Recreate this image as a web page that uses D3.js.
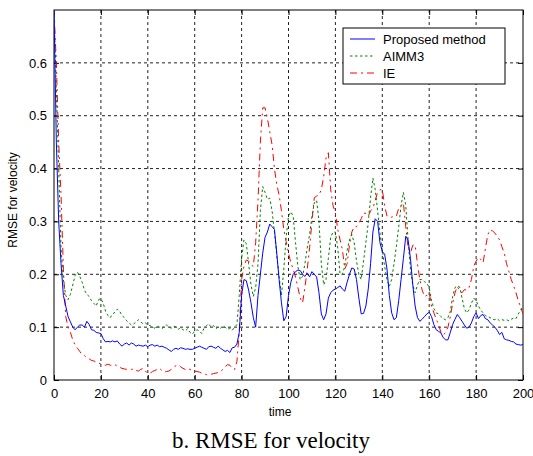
<!DOCTYPE html>
<html>
<head>
<meta charset="utf-8">
<script src="https://cdn.jsdelivr.net/npm/d3@7"></script>
<style>
  body { margin: 0; background: #fff; }
  svg { display: block; }
  .tick text { font-family: Arial, "Liberation Sans", sans-serif; font-size: 13px; fill: #000; }
</style>
</head>
<body>
<div id="chart"></div>
<script>
// Data (one value per time step 0..200)
var proposed = [
  0.70, 0.45, 0.30, 0.22, 0.16, 0.14, 0.12, 0.11, 0.10, 0.095,
  0.100, 0.104, 0.104, 0.100, 0.111, 0.105, 0.095, 0.094, 0.090, 0.089,
  0.088, 0.078, 0.072, 0.073, 0.072, 0.074, 0.072, 0.074, 0.068, 0.064,
  0.068, 0.070, 0.066, 0.070, 0.068, 0.064, 0.066, 0.065, 0.064, 0.066,
  0.063, 0.066, 0.067, 0.064, 0.066, 0.063, 0.064, 0.062, 0.060, 0.057,
  0.054, 0.058, 0.060, 0.058, 0.061, 0.060, 0.058, 0.059, 0.058, 0.058,
  0.060, 0.062, 0.064, 0.062, 0.060, 0.058, 0.063, 0.064, 0.062, 0.060,
  0.064, 0.060, 0.057, 0.054, 0.056, 0.052, 0.061, 0.062, 0.068, 0.090,
  0.160, 0.190, 0.188, 0.170, 0.146, 0.118, 0.100, 0.160, 0.200, 0.240,
  0.270, 0.280, 0.295, 0.290, 0.285, 0.240, 0.190, 0.146, 0.112, 0.120,
  0.160, 0.185, 0.200, 0.205, 0.208, 0.207, 0.200, 0.196, 0.202, 0.195,
  0.205, 0.200, 0.195, 0.165, 0.125, 0.114, 0.125, 0.155, 0.165, 0.170,
  0.172, 0.175, 0.178, 0.172, 0.168, 0.185, 0.200, 0.212, 0.210, 0.190,
  0.155, 0.125, 0.126, 0.140, 0.172, 0.220, 0.280, 0.305, 0.300, 0.260,
  0.243, 0.238, 0.210, 0.160, 0.127, 0.114, 0.118, 0.150, 0.190, 0.230,
  0.272, 0.265, 0.230, 0.180, 0.140, 0.118, 0.111, 0.115, 0.120, 0.125,
  0.128, 0.120, 0.105, 0.095, 0.092, 0.089, 0.080, 0.076, 0.076, 0.090,
  0.105, 0.115, 0.124, 0.118, 0.111, 0.104, 0.098, 0.100, 0.108, 0.120,
  0.127, 0.116, 0.122, 0.124, 0.116, 0.114, 0.108, 0.104, 0.100, 0.094,
  0.086, 0.090, 0.078, 0.076, 0.075, 0.073, 0.072, 0.068, 0.067, 0.066,
  0.067
];

var aimm3 = [
  0.70, 0.55, 0.40, 0.25, 0.19, 0.16, 0.152, 0.162, 0.180, 0.198,
  0.204, 0.196, 0.185, 0.170, 0.162, 0.158, 0.150, 0.145, 0.140, 0.152,
  0.154, 0.145, 0.130, 0.122, 0.118, 0.125, 0.128, 0.134, 0.130, 0.122,
  0.118, 0.112, 0.108, 0.104, 0.106, 0.110, 0.114, 0.110, 0.106, 0.108,
  0.104, 0.103, 0.100, 0.098, 0.102, 0.100, 0.097, 0.101, 0.104, 0.100,
  0.098, 0.102, 0.100, 0.096, 0.099, 0.095, 0.093, 0.097, 0.090, 0.087,
  0.092, 0.095, 0.093, 0.088, 0.098, 0.103, 0.106, 0.100, 0.103, 0.097,
  0.100, 0.098, 0.102, 0.100, 0.096, 0.098, 0.094, 0.100, 0.105, 0.160,
  0.230, 0.265, 0.258, 0.220, 0.180, 0.158, 0.175, 0.220, 0.320, 0.366,
  0.355, 0.342, 0.344, 0.320, 0.280, 0.235, 0.195, 0.160, 0.210, 0.270,
  0.310, 0.318, 0.310, 0.260, 0.215, 0.190, 0.196, 0.220, 0.250, 0.275,
  0.310, 0.335, 0.340, 0.300, 0.220, 0.180, 0.190, 0.230, 0.270, 0.280,
  0.280, 0.250, 0.200, 0.200, 0.215, 0.245, 0.265, 0.275, 0.260, 0.225,
  0.200, 0.190, 0.225, 0.260, 0.297, 0.345, 0.382, 0.360, 0.320, 0.278,
  0.245, 0.215, 0.190, 0.177, 0.190, 0.220, 0.253, 0.290, 0.330, 0.355,
  0.330, 0.265, 0.210, 0.180, 0.165, 0.180, 0.190, 0.190, 0.186, 0.183,
  0.175, 0.150, 0.135, 0.127, 0.125, 0.120, 0.116, 0.114, 0.118, 0.130,
  0.158, 0.175, 0.178, 0.176, 0.155, 0.135, 0.127, 0.133, 0.145, 0.155,
  0.150, 0.140, 0.132, 0.127, 0.122, 0.120, 0.118, 0.115, 0.114, 0.116,
  0.112, 0.114, 0.113, 0.114, 0.112, 0.115, 0.117, 0.116, 0.125, 0.132,
  0.140
];

var ie = [
  0.70, 0.60, 0.45, 0.35, 0.21, 0.12, 0.100, 0.090, 0.076, 0.066,
  0.060, 0.054, 0.048, 0.046, 0.042, 0.040, 0.037, 0.036, 0.034, 0.032,
  0.030, 0.029, 0.028, 0.030, 0.028, 0.027, 0.029, 0.026, 0.024, 0.022,
  0.021, 0.020, 0.019, 0.020, 0.021, 0.018, 0.017, 0.020, 0.022, 0.016,
  0.014, 0.013, 0.016, 0.018, 0.020, 0.022, 0.018, 0.015, 0.016, 0.017,
  0.020, 0.024, 0.027, 0.029, 0.025, 0.022, 0.020, 0.022, 0.020, 0.018,
  0.017, 0.016, 0.015, 0.013, 0.012, 0.010, 0.010, 0.011, 0.012, 0.013,
  0.014, 0.016, 0.020, 0.025, 0.029, 0.028, 0.022, 0.020, 0.035, 0.090,
  0.190, 0.215, 0.227, 0.225, 0.218, 0.215, 0.260, 0.340, 0.450, 0.515,
  0.515, 0.495, 0.470, 0.445, 0.400, 0.370, 0.350, 0.320, 0.285, 0.262,
  0.240, 0.222, 0.210, 0.195, 0.175, 0.155, 0.146, 0.175, 0.210, 0.250,
  0.300, 0.345, 0.348, 0.350, 0.360, 0.385, 0.420, 0.430, 0.360, 0.330,
  0.316, 0.285, 0.265, 0.246, 0.210, 0.220, 0.255, 0.280, 0.290, 0.290,
  0.297, 0.305, 0.316, 0.315, 0.310, 0.320, 0.325, 0.340, 0.355, 0.360,
  0.360, 0.330, 0.310, 0.310, 0.308, 0.310, 0.310, 0.325, 0.330, 0.335,
  0.290, 0.250, 0.240, 0.255, 0.255, 0.220, 0.190, 0.170, 0.158, 0.160,
  0.165, 0.140, 0.127, 0.115, 0.105, 0.090, 0.085, 0.090, 0.100, 0.120,
  0.145, 0.165, 0.177, 0.168, 0.165, 0.171, 0.170, 0.175, 0.190, 0.215,
  0.225, 0.232, 0.228, 0.222, 0.250, 0.275, 0.284, 0.282, 0.278, 0.272,
  0.265, 0.252, 0.240, 0.220, 0.205, 0.190, 0.178, 0.165, 0.150, 0.138,
  0.125
];

var xTicks = [0, 20, 40, 60, 80, 100, 120, 140, 160, 180, 200];
var yTicks = [0, 0.1, 0.2, 0.3, 0.4, 0.5, 0.6];
var seriesNames = ["Proposed method", "AIMM3", "IE"];

// SVG Dimensions
var svgWidth = 533;
var svgHeight = 456;

var margin = { top: 10, right: 10, bottom: 76, left: 54 };
var width = 523 - margin.left;
var height = 380 - margin.top;

var svg = d3.select("#chart")
  .append("svg")
  .attr("width", svgWidth)
  .attr("height", svgHeight);

var chartGroup = svg.append("g")
  .attr("transform", `translate(${margin.left}, ${margin.top})`);

var xScale = d3.scaleLinear().domain([0, 200]).range([0, width]);
var yScale = d3.scaleLinear().domain([0, 0.7]).range([height, 0]);

// grid
chartGroup.append("g").selectAll("line")
  .data(xTicks.slice(1, -1))
  .enter().append("line")
  .attr("x1", d => xScale(d)).attr("x2", d => xScale(d))
  .attr("y1", 0).attr("y2", height)
  .attr("stroke", "#222").attr("stroke-dasharray", "3,3");
chartGroup.append("g").selectAll("line")
  .data(yTicks.slice(1))
  .enter().append("line")
  .attr("y1", d => yScale(d)).attr("y2", d => yScale(d))
  .attr("x1", 0).attr("x2", width)
  .attr("stroke", "#222").attr("stroke-dasharray", "3,3");

// axes, ticks pointing inward (MATLAB style)
var bottomAxis = d3.axisBottom(xScale).tickValues(xTicks).tickSizeInner(-5).tickSizeOuter(0).tickPadding(9);
var leftAxis = d3.axisLeft(yScale).tickValues(yTicks).tickSizeInner(-5).tickSizeOuter(0).tickPadding(7)
  .tickFormat(d => d === 0 ? "0" : d3.format(".1f")(d));
var topAxis = d3.axisTop(xScale).tickValues(xTicks).tickSizeInner(-5).tickSizeOuter(0).tickFormat("");
var rightAxis = d3.axisRight(yScale).tickValues(yTicks).tickSizeInner(-5).tickSizeOuter(0).tickFormat("");

chartGroup.append("g").attr("transform", `translate(0, ${height})`).call(bottomAxis);
chartGroup.append("g").call(leftAxis);
chartGroup.append("g").call(topAxis).selectAll("text").remove();
chartGroup.append("g").attr("transform", `translate(${width}, 0)`).call(rightAxis);
chartGroup.selectAll(".domain").remove();

// box
chartGroup.append("rect")
  .attr("x", 0).attr("y", 0).attr("width", width).attr("height", height)
  .attr("fill", "none").attr("stroke", "#000").attr("stroke-width", 1);

chartGroup.append("clipPath").attr("id", "plotclip")
  .append("rect").attr("x", 0).attr("y", 0).attr("width", width).attr("height", height);

var line = d3.line()
  .x((d, i) => xScale(i))
  .y(d => yScale(d));

var styles = [
  { data: proposed, color: "#0000ff", dash: null },
  { data: aimm3, color: "#008000", dash: "2.5,2.5" },
  { data: ie, color: "#ff0000", dash: "7,4,2,4" }
];

var lines = chartGroup.append("g").attr("clip-path", "url(#plotclip)");
// draw IE first, then AIMM3, then proposed on top
[2, 1, 0].forEach(function(k) {
  lines.append("path")
    .datum(styles[k].data)
    .attr("d", line)
    .attr("fill", "none")
    .attr("stroke", styles[k].color)
    .attr("stroke-width", 1)
    .attr("stroke-dasharray", styles[k].dash);
});

// legend
var legend = svg.append("g").attr("transform", "translate(343, 28)");
legend.append("rect")
  .attr("width", 162).attr("height", 56)
  .attr("fill", "#fff").attr("stroke", "#000").attr("stroke-width", 1);
seriesNames.forEach(function(name, i) {
  var y = 11 + i * 17;
  legend.append("line")
    .attr("x1", 7).attr("x2", 32).attr("y1", y).attr("y2", y)
    .attr("stroke", styles[i].color).attr("stroke-width", 1)
    .attr("stroke-dasharray", styles[i].dash);
  legend.append("text")
    .attr("x", 40).attr("y", y)
    .attr("dy", "0.35em")
    .attr("font-family", "Arial, 'Liberation Sans', sans-serif")
    .attr("font-size", "13px")
    .text(name);
});

// axis labels
svg.append("text")
  .attr("transform", "translate(17, 200) rotate(-90)")
  .attr("text-anchor", "middle")
  .attr("font-family", "Arial, 'Liberation Sans', sans-serif")
  .attr("font-size", "12px")
  .text("RMSE for velocity");

svg.append("text")
  .attr("x", 280).attr("y", 416)
  .attr("text-anchor", "middle")
  .attr("font-family", "Arial, 'Liberation Sans', sans-serif")
  .attr("font-size", "12px")
  .text("time");

svg.append("text")
  .attr("x", 271).attr("y", 448)
  .attr("text-anchor", "middle")
  .attr("font-family", "'Liberation Serif', 'Times New Roman', serif")
  .attr("font-size", "23px")
  .text("b. RMSE for velocity");
</script>
</body>
</html>
